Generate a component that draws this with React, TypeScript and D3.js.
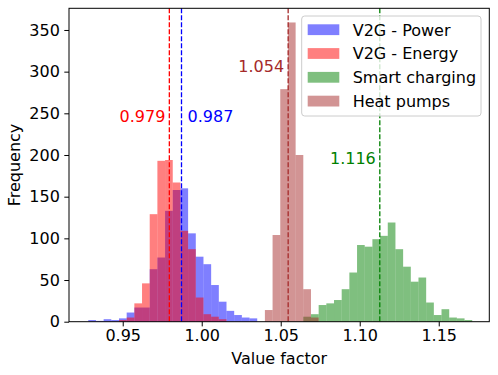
import { useRef, useEffect } from 'react'
import * as d3 from 'd3'

// shared bins for all four histograms
const binStart = 0.9282
const binEnd = 1.1712
const binCount = 50

// counts per bin, each series starts at its own first bin index
const v2gPowerFirstBin = 0
const v2gPowerCounts = [2, 1, 3, 2, 4, 11, 17, 17, 63, 77, 133, 158, 160, 106, 78, 69, 44, 24, 13, 8, 5, 4]
const v2gEnergyFirstBin = 4
const v2gEnergyCounts = [2, 5, 22, 46, 129, 193, 194, 167, 109, 87, 29, 9, 6, 3]
const smartChargingFirstBin = 28
const smartChargingCounts = [6, 9, 20, 22, 26, 39, 59, 92, 90, 99, 103, 119, 87, 66, 48, 53, 23, 8, 15, 5, 4, 2]
const heatPumpsFirstBin = 23
const heatPumpsCounts = [14, 104, 279, 359, 200, 39, 5]

const seriesNames = ['V2G - Power', 'V2G - Energy', 'Smart charging', 'Heat pumps']
const seriesColors = ['blue', 'red', 'green', 'brown']

// mean lines and their labels
const meanValues = [0.9872, 0.9795, 1.1127, 1.0547]
const meanLabels = ['0.987', '0.979', '1.116', '1.054']
const meanLabelY = [240, 240, 189, 300]
const meanLabelSide = ['right', 'left', 'left', 'left']

const xTicks = [0.95, 1.0, 1.05, 1.1, 1.15]
const yTicks = [0, 50, 100, 150, 200, 250, 300, 350]

const App = () => {
  const svgRef = useRef<SVGSVGElement>(null)

  useEffect(() => {
    const W = 498
    const H = 375
    const margin = { top: 8.3, right: 8.7, bottom: 53.3, left: 69 }
    const font = 'DejaVu Sans, sans-serif'

    const svg = d3.select(svgRef.current)
    svg.selectAll('*').remove()

    const x = d3.scaleLinear().domain([0.916, 1.182]).range([margin.left, W - margin.right])
    const y = d3.scaleLinear().domain([0, 376]).range([H - margin.bottom, margin.top])
    const binWidth = (binEnd - binStart) / binCount

    const series = [
      { first: v2gPowerFirstBin, counts: v2gPowerCounts },
      { first: v2gEnergyFirstBin, counts: v2gEnergyCounts },
      { first: smartChargingFirstBin, counts: smartChargingCounts },
      { first: heatPumpsFirstBin, counts: heatPumpsCounts },
    ]

    // histogram bars
    series.forEach((s, si) => {
      svg.append('g')
        .selectAll('rect')
        .data(s.counts)
        .enter()
        .append('rect')
        .attr('x', (_, i) => x(binStart + (s.first + i) * binWidth))
        .attr('width', (_, i) => x(binStart + (s.first + i + 1) * binWidth) - x(binStart + (s.first + i) * binWidth))
        .attr('y', d => y(d))
        .attr('height', d => y(0) - y(d))
        .attr('fill', seriesColors[si])
        .attr('fill-opacity', 0.5)
    })

    // mean lines + labels
    meanValues.forEach((m, i) => {
      svg.append('line')
        .attr('x1', x(m)).attr('x2', x(m))
        .attr('y1', margin.top).attr('y2', H - margin.bottom)
        .attr('stroke', seriesColors[i])
        .attr('stroke-width', 1.3)
        .attr('stroke-dasharray', '4.9,2.1')
      const right = meanLabelSide[i] === 'right'
      svg.append('text')
        .attr('x', x(m) + (right ? 6 : -4))
        .attr('y', y(meanLabelY[i]))
        .attr('text-anchor', right ? 'start' : 'end')
        .attr('fill', seriesColors[i])
        .attr('font-family', font)
        .attr('font-size', 16)
        .text(meanLabels[i])
    })

    // frame
    svg.append('rect')
      .attr('x', margin.left).attr('y', margin.top)
      .attr('width', W - margin.left - margin.right)
      .attr('height', H - margin.top - margin.bottom)
      .attr('fill', 'none').attr('stroke', '#000').attr('stroke-width', 1)

    // x axis
    const xAxis = svg.append('g')
      .attr('transform', `translate(0,${H - margin.bottom})`)
      .call(d3.axisBottom(x).tickValues(xTicks).tickFormat(d3.format('.2f')).tickSize(4.7).tickPadding(3.5))
    xAxis.select('.domain').remove()
    xAxis.selectAll('text').attr('font-family', font).attr('font-size', 16).attr('fill', '#000')

    // y axis
    const yAxis = svg.append('g')
      .attr('transform', `translate(${margin.left},0)`)
      .call(d3.axisLeft(y).tickValues(yTicks).tickSize(4.7).tickPadding(4.5))
    yAxis.select('.domain').remove()
    yAxis.selectAll('text').attr('font-family', font).attr('font-size', 16).attr('fill', '#000')

    svg.append('text')
      .attr('x', (margin.left + W - margin.right) / 2)
      .attr('y', 364)
      .attr('text-anchor', 'middle')
      .attr('font-family', font).attr('font-size', 16)
      .text('Value factor')

    svg.append('text')
      .attr('transform', `translate(19.7,${(margin.top + H - margin.bottom) / 2}) rotate(-90)`)
      .attr('text-anchor', 'middle')
      .attr('font-family', font).attr('font-size', 16)
      .text('Frequency')

    // legend
    const lg = svg.append('g')
    lg.append('rect')
      .attr('x', 301.7).attr('y', 16)
      .attr('width', 179.3).attr('height', 100)
      .attr('rx', 3)
      .attr('fill', '#fff').attr('fill-opacity', 0.8)
      .attr('stroke', '#cccccc').attr('stroke-width', 1)
    seriesNames.forEach((name, i) => {
      const cy = 29.7 + i * 23.8
      lg.append('rect')
        .attr('x', 307.7).attr('y', cy - 5.4)
        .attr('width', 31.6).attr('height', 10.8)
        .attr('fill', seriesColors[i]).attr('fill-opacity', 0.5)
      lg.append('text')
        .attr('x', 352.7).attr('y', cy + 5.8)
        .attr('font-family', font).attr('font-size', 16)
        .text(name)
    })
  }, [])

  return (
    <svg ref={svgRef} width={498} height={375} style={{ position: 'absolute', left: 0, top: 0 }}></svg>
  )
}
export default App
